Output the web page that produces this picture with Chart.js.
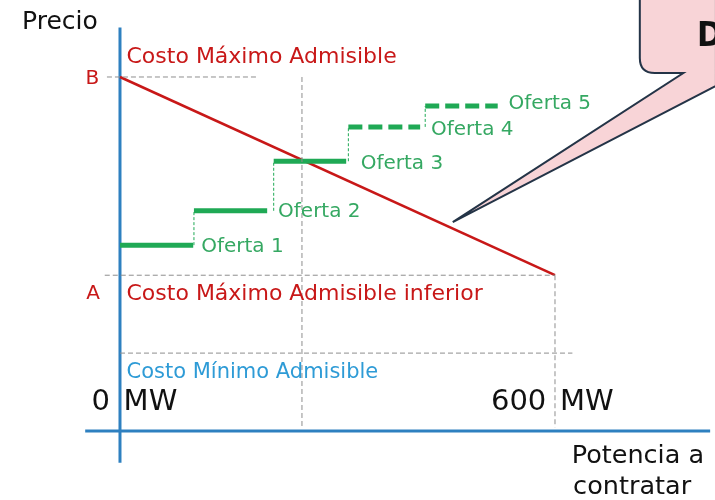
<!DOCTYPE html>
<html lang="es">
<head>
  <meta charset="UTF-8" />
  <title>Subasta - Costo Máximo Admisible</title>
  <script src="https://cdn.jsdelivr.net/npm/chart.js"></script>
  <style>
    * { margin: 0; padding: 0; box-sizing: border-box; }
    body { background: #fff; width: 715px; height: 500px; overflow: hidden; }
    #grafico { display: block; }
  </style>
</head>
<body>
  <canvas id="grafico" width="715" height="500"></canvas>

  <script>
    // Datos (MW en x, precio en unidades relativas en y)
    const ofertas = ['Oferta 1', 'Oferta 2', 'Oferta 3', 'Oferta 4', 'Oferta 5'];
    const ofertaDesde = [0, 102, 212, 315, 421];
    const ofertaHasta = [101, 203, 312, 414, 521];
    const ofertaPrecio = [52.5, 62.2, 76.2, 85.9, 91.8];
    const precioB = 100;        // Costo Máximo Admisible
    const precioA = 44;         // Costo Máximo Admisible inferior
    const precioMinimo = 22;    // Costo Mínimo Admisible
    const potenciaMax = 600;
    const potenciaCorte = 251;
    const ticksX = ['0', '600'];

    const AZUL = '#2e80c0';
    const ROJO = '#c81818';
    const VERDE = '#1fa955';
    const VERDE_TXT = '#35a862';
    const GRIS = '#8e8e8e';
    const FUENTE = '"DejaVu Sans", Verdana, sans-serif';

    function seg(x1, y1, x2, y2, color, width, dash) {
      return {
        data: [{ x: x1, y: y1 }, { x: x2, y: y2 }],
        showLine: true,
        borderColor: color,
        borderWidth: width,
        borderDash: dash || [],
        pointRadius: 0,
        borderCapStyle: 'butt'
      };
    }

    const datasets = [];
    // lineas guia punteadas
    datasets.push(seg(-18, precioB, 190, precioB, GRIS, 1, [5, 3]));
    datasets.push(seg(-21, precioA, potenciaMax, precioA, GRIS, 1, [5, 3]));
    datasets.push(seg(0, precioMinimo, 624, precioMinimo, GRIS, 1, [5, 3]));
    datasets.push(seg(potenciaCorte, precioB, potenciaCorte, 1, GRIS, 1, [5, 3]));
    datasets.push(seg(potenciaMax, precioA, potenciaMax, 1, GRIS, 1, [5, 3]));
    // escalones verticales de las ofertas
    for (let i = 1; i < ofertas.length; i++) {
      datasets.push(seg(ofertaDesde[i], ofertaPrecio[i - 1], ofertaDesde[i], ofertaPrecio[i], VERDE, 1, [3, 2]));
    }
    // ofertas
    ofertas.forEach((o, i) => {
      datasets.push(seg(ofertaDesde[i], ofertaPrecio[i], ofertaHasta[i], ofertaPrecio[i], VERDE, 5, i >= 3 ? [14, 6] : []));
    });
    // curva de costo maximo admisible
    datasets.push(seg(0, precioB, potenciaMax, precioA, ROJO, 2.5));
    // ejes
    datasets.push(seg(-48, 0, 814, 0, AZUL, 3));
    datasets.push(seg(0, -9, 0, 114, AZUL, 3));

    // textos en coordenadas de datos
    const textos = [
      { t: 'Precio', x: -135, y: 115.5, c: '#111', f: '25px', a: 'left' },
      { t: 'Costo Máximo Admisible', x: 9, y: 105.5, c: ROJO, f: '22px', a: 'left' },
      { t: 'B', x: -38, y: 99.5, c: ROJO, f: '20px', a: 'center' },
      { t: 'A', x: -37, y: 38.8, c: ROJO, f: '20px', a: 'center' },
      { t: 'Costo Máximo Admisible inferior', x: 9, y: 38.5, c: ROJO, f: '22px', a: 'left' },
      { t: 'Costo Mínimo Admisible', x: 9, y: 16.6, c: '#2e9bd6', f: '21px', a: 'left' },
      { t: ticksX[0], x: -14, y: 8, c: '#111', f: '29px', a: 'right' },
      { t: 'MW', x: 5, y: 8, c: '#111', f: '29px', a: 'left' },
      { t: ticksX[1], x: 588, y: 8, c: '#111', f: '29px', a: 'right' },
      { t: 'MW', x: 607, y: 8, c: '#111', f: '29px', a: 'left' },
      { t: 'Potencia a', x: 623, y: -7.3, c: '#111', f: '25.5px', a: 'left' },
      { t: 'contratar', x: 625, y: -15.8, c: '#111', f: '25.5px', a: 'left' }
    ];
    const etiquetaDx = [11, 15, 20, 15, 15];
    const etiquetaDy = [-0.5, -0.3, -0.8, -0.9, 0.5];

    const plugTextos = {
      id: 'textos',
      afterDatasetsDraw(chart) {
        const { ctx, scales: { x, y } } = chart;
        ctx.save();
        ctx.textBaseline = 'middle';
        textos.forEach(o => {
          ctx.font = o.f + ' ' + FUENTE;
          ctx.fillStyle = o.c;
          ctx.textAlign = o.a;
          ctx.fillText(o.t, x.getPixelForValue(o.x), y.getPixelForValue(o.y));
        });
        ctx.font = '20px ' + FUENTE;
        ctx.fillStyle = VERDE_TXT;
        ctx.textAlign = 'left';
        ofertas.forEach((o, i) => {
          ctx.fillText(o, x.getPixelForValue(ofertaHasta[i] + etiquetaDx[i]),
            y.getPixelForValue(ofertaPrecio[i] + etiquetaDy[i]));
        });

        // globo de dialogo
        const px = v => x.getPixelForValue(v);
        const py = v => y.getPixelForValue(v);
        const izq = px(717), abajo = py(101.1), r = 15;
        ctx.beginPath();
        ctx.moveTo(izq, -5);
        ctx.lineTo(izq, abajo - r);
        ctx.quadraticCurveTo(izq, abajo, izq + r, abajo);
        ctx.lineTo(px(777), abajo);
        ctx.lineTo(px(459), py(59));
        ctx.lineTo(px(822), py(97.5));
        ctx.lineTo(px(822), -5);
        ctx.closePath();
        ctx.fillStyle = '#f8d4d7';
        ctx.fill();
        ctx.strokeStyle = '#243447';
        ctx.lineWidth = 2;
        ctx.stroke();
        ctx.font = 'bold 34px "DejaVu Sans Condensed", ' + FUENTE;
        ctx.fillStyle = '#111';
        ctx.textAlign = 'left';
        ctx.fillText('D', px(796), py(111.3));
        ctx.restore();
      }
    };

    new Chart(document.getElementById('grafico'), {
      type: 'scatter',
      data: { datasets },
      options: {
        responsive: false,
        animation: false,
        layout: { padding: 0 },
        plugins: { legend: { display: false }, tooltip: { enabled: false } },
        scales: {
          x: { type: 'linear', display: false, min: -165.5, max: 820.7 },
          y: { type: 'linear', display: false, min: -19.5, max: 121.75 }
        }
      },
      plugins: [plugTextos]
    });
  </script>
</body>
</html>
